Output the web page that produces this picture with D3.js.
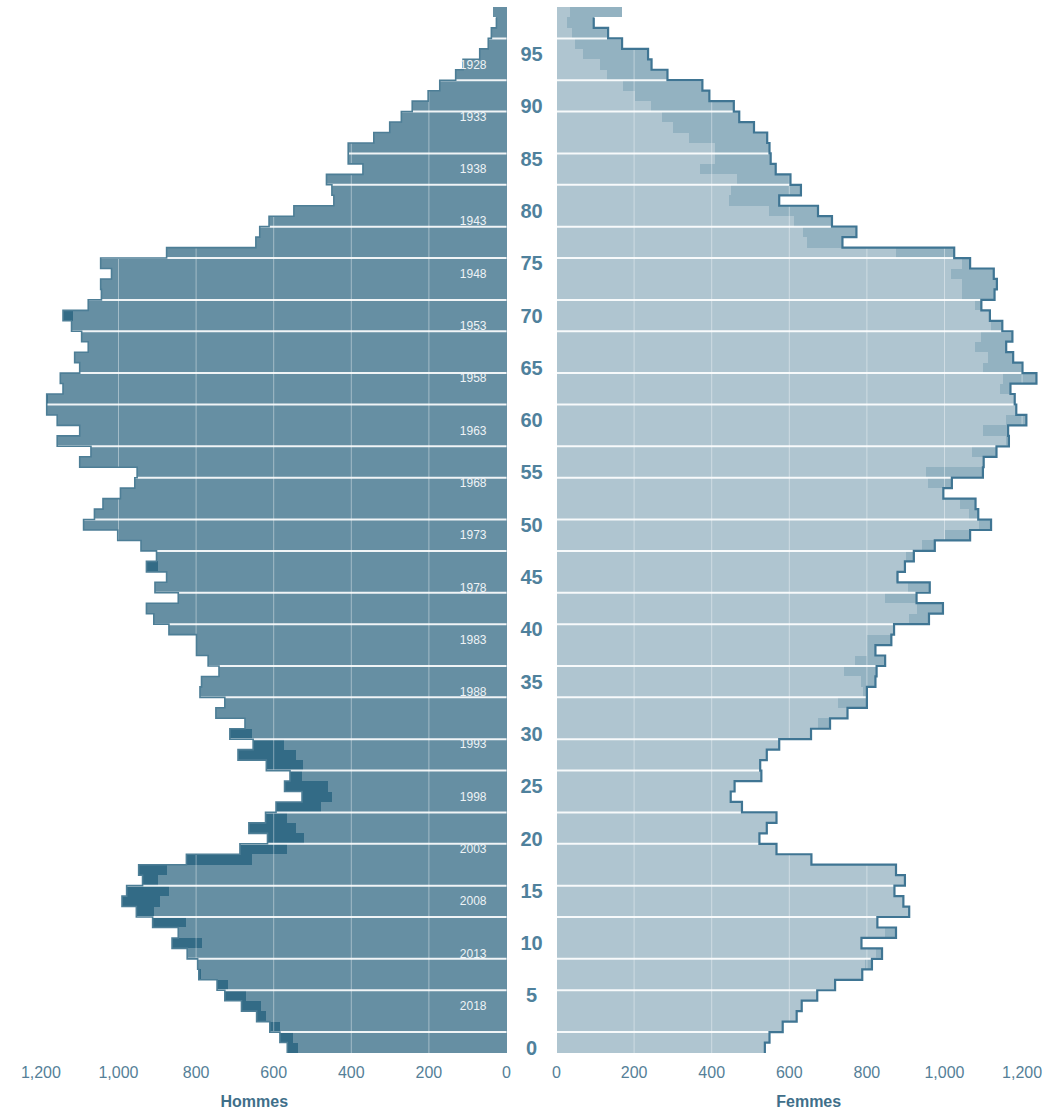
<!DOCTYPE html>
<html>
<head>
<meta charset="utf-8">
<script src="https://cdn.jsdelivr.net/npm/d3@7"></script>
<style>
  body { margin: 0; background: #fff; }
  text { font-family: Arial, "Liberation Sans", sans-serif; }
</style>
</head>
<body>
<div id="pyramide"></div>
<script>
// effectifs par age (0 a 99 ans)
var ages = d3.range(0, 100);
var hommes = [
  565, 584, 610, 644, 683, 726, 746, 793, 796, 823,
  862, 846, 912, 954, 991, 979, 938, 948, 825, 687,
  616, 664, 621, 594, 527, 572, 558, 619, 692, 653,
  713, 674, 749, 726, 790, 786, 741, 769, 799, 799,
  870, 909, 928, 846, 906, 876, 928, 902, 942, 1002,
  1090, 1062, 1040, 995, 958, 952, 1100, 1071, 1158, 1100,
  1158, 1185, 1185, 1143, 1150, 1100, 1113, 1078, 1095, 1121,
  1143, 1078, 1044, 1046, 1018, 1046, 876, 646, 636, 612,
  548, 445, 450, 464, 370, 408, 408, 342, 301, 271,
  243, 202, 172, 131, 112, 69, 47, 39, 26, 35
];
var femmes = [
  537, 549, 583, 619, 632, 672, 718, 788, 813, 839,
  786, 875, 827, 909, 894, 871, 898, 875, 657, 567,
  523, 542, 567, 478, 449, 459, 528, 525, 542, 574,
  656, 705, 750, 800, 800, 822, 825, 847, 822, 863,
  870, 960, 996, 928, 962, 879, 898, 921, 975, 1066,
  1120, 1087, 1080, 997, 1019, 1099, 1101, 1134, 1166, 1164,
  1211, 1185, 1181, 1170, 1237, 1201, 1177, 1159, 1175, 1149,
  1117, 1095, 1129, 1135, 1127, 1066, 1025, 737, 773, 710,
  674, 574, 630, 603, 565, 552, 549, 543, 509, 471,
  457, 394, 376, 286, 245, 236, 169, 133, 96, 170
];
var annees    = d3.range(1928, 2019, 5);
var anneeRef  = 2022;
var agesAxe   = d3.range(0, 100, 5);
var graduations = [0, 200, 400, 600, 800, 1000, 1200];
var separations = d3.range(2, 100, 3.5).map(Math.ceil);

var width  = 1048;
var height = 1111;

var svg = d3.select("#pyramide")
  .append("svg")
    .attr("width",  width)
    .attr("height", height);

var y  = d3.scaleLinear().domain([0, 100]).range([1053, 7]);
var xH = d3.scaleLinear().domain([0, 1300]).range([506.5, 2.1]);
var xF = d3.scaleLinear().domain([0, 1300]).range([556.5, 1060.9]);

function cote(x, propre, autre, cBase, cExces, cTrait, eTrait) {
  var g = svg.append("g");

  function barres(cls, v0, v1, color) {
    g.selectAll("rect." + cls)
      .data(ages.filter((a) => v1(a) > v0(a)))
      .join("rect")
        .attr("class", cls)
        .attr("x", (a) => Math.min(x(v0(a)), x(v1(a))))
        .attr("width", (a) => Math.abs(x(v1(a)) - x(v0(a))))
        .attr("y", (a) => y(a + 1))
        .attr("height", (a) => y(a) - y(a + 1))
        .attr("fill", color)
        .attr("shape-rendering", "crispEdges");
  }

  barres("base",  (a) => 0, (a) => Math.min(propre[a], autre[a]), cBase);
  barres("exces", (a) => Math.min(propre[a], autre[a]), (a) => propre[a], cExces);

  // grille verticale
  g.selectAll("line.grille")
    .data(graduations.slice(1))
    .join("line")
      .attr("class", "grille")
      .attr("x1", (d) => x(d)).attr("x2", (d) => x(d))
      .attr("y1", y(100)).attr("y2", y(0))
      .attr("stroke", "#fff")
      .attr("stroke-opacity", 0.4)
      .attr("stroke-width", 1);

  // separations horizontales
  g.selectAll("line.sep")
    .data(separations)
    .join("line")
      .attr("class", "sep")
      .attr("x1", x(0)).attr("x2", x(1300))
      .attr("y1", (d) => y(d)).attr("y2", (d) => y(d))
      .attr("stroke", "#fff")
      .attr("stroke-opacity", 0.9)
      .attr("stroke-width", 2);

  // contour
  var p = d3.path();
  d3.range(98, -1, -1).forEach((a, i) => {
    if (i == 0) p.moveTo(x(propre[a]), y(a + 1));
    else        p.lineTo(x(propre[a]), y(a + 1));
    p.lineTo(x(propre[a]), y(a));
  });
  g.append("path")
    .attr("d", p.toString())
    .attr("fill", "none")
    .attr("stroke", cTrait)
    .attr("stroke-width", eTrait);

  // graduations
  g.selectAll("text.tick")
    .data(graduations)
    .join("text")
      .attr("class", "tick")
      .attr("x", (d) => x(d))
      .attr("y", 1078)
      .attr("text-anchor", "middle")
      .attr("font-size", "16px")
      .attr("fill", "#557f98")
      .text(d3.format(","));

  return g;
}

var gH = cote(xH, hommes, femmes, "#668fa3", "#336b86", "#4d7e96", 1.6);
cote(xF, femmes, hommes, "#afc5d0", "#93b2c1", "#3f7593", 2.2);

// annees de naissance
gH.selectAll("text.annee")
  .data(annees)
  .join("text")
    .attr("class", "annee")
    .attr("x", xH(0) - 20)
    .attr("y", (d) => y(anneeRef - d + 0.5) + 4)
    .attr("text-anchor", "end")
    .attr("font-size", "12px")
    .attr("fill", "#eef3f6")
    .text((d) => d);

// ages
svg.selectAll("text.age")
  .data(agesAxe)
  .join("text")
    .attr("class", "age")
    .attr("x", (xH(0) + xF(0)) / 2)
    .attr("y", (d) => y(d + 0.5) + 7)
    .attr("text-anchor", "middle")
    .attr("font-size", "20px")
    .attr("font-weight", "bold")
    .attr("fill", "#4f819c")
    .text((d) => d);

svg.append("text")
  .attr("x", xH(650)).attr("y", 1107)
  .attr("text-anchor", "middle")
  .attr("font-size", "16px").attr("font-weight", "bold")
  .attr("fill", "#3f6f8a")
  .text("Hommes");

svg.append("text")
  .attr("x", xF(650)).attr("y", 1107)
  .attr("text-anchor", "middle")
  .attr("font-size", "16px").attr("font-weight", "bold")
  .attr("fill", "#3f6f8a")
  .text("Femmes");
</script>
</body>
</html>
